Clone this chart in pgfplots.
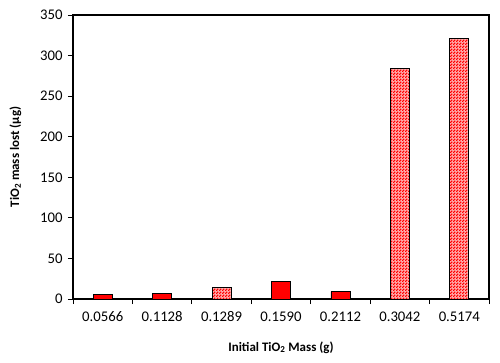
\documentclass[border=0pt]{standalone}
\usepackage{fontspec}
\setmainfont{Carlito}
\usepackage{pgfplots}
\pgfplotsset{compat=1.18}
\usetikzlibrary{patterns}
\pgfdeclarepatternformonly{checker}{\pgfpointorigin}{\pgfqpoint{3bp}{3bp}}{\pgfqpoint{3bp}{3bp}}{%
  \pgfpathrectangle{\pgfpointorigin}{\pgfqpoint{1.7bp}{1.7bp}}%
  \pgfpathrectangle{\pgfqpoint{1.5bp}{1.5bp}}{\pgfqpoint{1.7bp}{1.7bp}}%
  \pgfusepath{fill}}
\begin{document}
\begin{tikzpicture}[x=1bp,y=1bp]
\begin{axis}[
  scale only axis,
  width=416bp, height=284bp,
  xmin=-0.5, xmax=6.5,
  ymin=0, ymax=350,
  ytick={0,50,...,350},
  xtick={0,...,6},
  xticklabels={0.0566,0.1128,0.1289,0.1590,0.2112,0.3042,0.5174},
  minor xtick={-0.5,0.5,...,6.5},
  major x tick style={draw=none},
  tick align=outside,
  y tick style={line width=1pt, black},
  minor x tick style={line width=1pt, black},
  major tick length=5bp, minor tick length=5bp,
  xtick pos=bottom, ytick pos=left,
  axis line style={line width=1.3pt},
  /pgf/number format/assume math mode=true,
  ticklabel style={font=\fontsize{14.8}{16}\selectfont},
  xticklabel style={yshift=-4bp},
  yticklabel style={xshift=-2bp},
  xlabel={\textbf{Initial TiO\textsubscript{2} Mass (g)}},
  ylabel={\textbf{TiO\textsubscript{2} mass lost (µg)}},
  label style={font=\fontsize{13}{15}\selectfont},
  xlabel style={yshift=-13bp},
  ylabel style={yshift=12bp},
  ybar, bar width=19bp, bar shift=0pt,
]
\addplot[draw=black, line width=0.8pt, fill=red] coordinates {(0,5.3) (1,7) (3,21.4) (4,9)};
\addplot[draw=black, line width=0.8pt, fill=red!30, postaction={pattern=checker, pattern color=red}] coordinates {(2,14.4) (5,284) (6,321)};
\end{axis}
\pgfresetboundingbox
\path[use as bounding box] (-73,-63) rectangle (427,299);
\end{tikzpicture}
\end{document}
